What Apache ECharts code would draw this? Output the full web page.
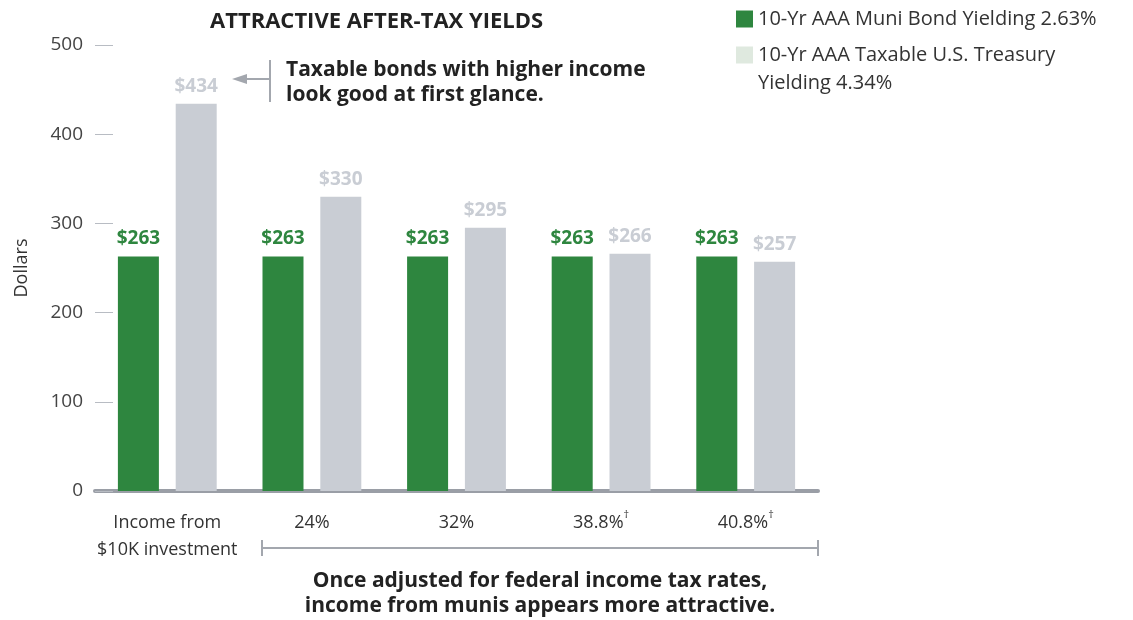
<!DOCTYPE html>
<html><head><meta charset="utf-8">
<script src="https://cdn.jsdelivr.net/npm/echarts@6/dist/echarts.min.js"></script>
<style>html,body{margin:0;padding:0;background:#fff}#c{width:1133px;height:620px}</style>
</head><body><div id="c"></div>
<script>
const categories = ['Income from\n$10K investment', '24%', '32%', '38.8%†', '40.8%†'];
const muniValues = [263, 263, 263, 263, 263];
const taxableValues = [434, 330, 295, 266, 257];
const yTicks = [0, 100, 200, 300, 400, 500];
const muniName = '10-Yr AAA Muni Bond Yielding 2.63%';
const taxName = '10-Yr AAA Taxable U.S. Treasury\nYielding 4.34%';

const FONT = 'Open Sans';
const GREEN = '#2e863f';
const GRAY = '#c9cdd4';
const LINE = '#a3a7ae';

const chart = echarts.init(document.getElementById('c'));
chart.setOption({
  animation: false,
  textStyle: { fontFamily: FONT },
  title: {
    text: 'ATTRACTIVE AFTER-TAX YIELDS',
    left: 205, top: 3,
    textStyle: { fontFamily: FONT, fontWeight: 'bold', fontSize: 22, lineHeight: 28, color: '#222' }
  },
  legend: [{
    data: [{ name: muniName, itemStyle: { color: GREEN } }],
    left: 731, top: 0, orient: 'vertical', icon: 'rect',
    itemWidth: 17, itemHeight: 17, itemGap: 8, selectedMode: false,
    textStyle: { fontFamily: FONT, fontSize: 20, color: '#333', lineHeight: 28 }
  }, {
    data: [{ name: taxName, itemStyle: { color: '#dfe9df' } }],
    formatter: function (n) { return ' \n' + n; },
    left: 731, top: 8, orient: 'vertical', icon: 'rect',
    itemWidth: 17, itemHeight: 17, selectedMode: false,
    textStyle: { fontFamily: FONT, fontSize: 20, color: '#333', lineHeight: 28 }
  }],
  grid: { left: 95, right: 315, top: 45, bottom: 129, containLabel: false },
  xAxis: {
    type: 'category', data: categories,
    axisLine: { show: true, lineStyle: { color: '#9a9ea6', width: 4 } },
    axisTick: { show: false },
    axisLabel: {
      margin: 18, fontSize: 18, color: '#333', lineHeight: 27, interval: 0,
      formatter: function (v) {
        if (v.indexOf('†') >= 0) return '{a|' + v.replace('†', '') + '}{s|†}';
        return v;
      },
      rich: {
        a: { fontFamily: FONT, fontSize: 18, color: '#333' },
        s: { fontFamily: FONT, fontSize: 11, color: '#333', verticalAlign: 'top', padding: [0, 0, 0, 0] }
      }
    }
  },
  yAxis: {
    type: 'value', min: 0, max: 500, interval: 100,
    name: 'Dollars', nameLocation: 'middle', nameGap: 64,
    nameTextStyle: { fontFamily: FONT, fontSize: 18, color: '#333' },
    axisLine: { show: false },
    axisTick: { show: true, inside: true, length: 18, lineStyle: { color: '#b8bcc3', width: 1 } },
    splitLine: { show: false },
    axisLabel: {
      margin: 12, fontSize: 19, color: '#444',
      formatter: function (v) { return yTicks.indexOf(v) >= 0 ? String(v) : ''; }
    }
  },
  series: [{
    name: muniName, type: 'bar', data: muniValues,
    barWidth: 41, barGap: '41%',
    itemStyle: { color: GREEN },
    label: { show: true, position: 'top', distance: 8, formatter: '${c}',
             fontFamily: FONT, fontWeight: 'bold', fontSize: 19, color: GREEN }
  }, {
    name: taxName, type: 'bar', data: taxableValues,
    barWidth: 41,
    itemStyle: { color: GRAY },
    label: { show: true, position: 'top', distance: 8, formatter: '${c}',
             fontFamily: FONT, fontWeight: 'bold', fontSize: 19, color: GRAY }
  }],
  graphic: [
    { type: 'line', shape: { x1: 270, y1: 60, x2: 270, y2: 102 }, style: { stroke: LINE, lineWidth: 2 } },
    { type: 'line', shape: { x1: 270, y1: 79, x2: 242, y2: 79 }, style: { stroke: LINE, lineWidth: 2 } },
    { type: 'polygon', shape: { points: [[232, 79], [247, 74], [247, 84]] }, style: { fill: LINE } },
    { type: 'text', left: 286, top: 58,
      style: { text: 'Taxable bonds with higher income\nlook good at first glance.',
               fontFamily: FONT, fontWeight: 'bold', fontSize: 21, lineHeight: 25, fill: '#222' } },
    { type: 'line', shape: { x1: 262, y1: 548, x2: 818, y2: 548 }, style: { stroke: LINE, lineWidth: 2 } },
    { type: 'line', shape: { x1: 262, y1: 540, x2: 262, y2: 556 }, style: { stroke: LINE, lineWidth: 2 } },
    { type: 'line', shape: { x1: 818, y1: 540, x2: 818, y2: 556 }, style: { stroke: LINE, lineWidth: 2 } },
    { type: 'text', x: 540, y: 569,
      style: { text: 'Once adjusted for federal income tax rates,\nincome from munis appears more attractive.',
               align: 'center', fontFamily: FONT, fontWeight: 'bold', fontSize: 21, lineHeight: 25, fill: '#222' } }
  ]
});
</script></body></html>
